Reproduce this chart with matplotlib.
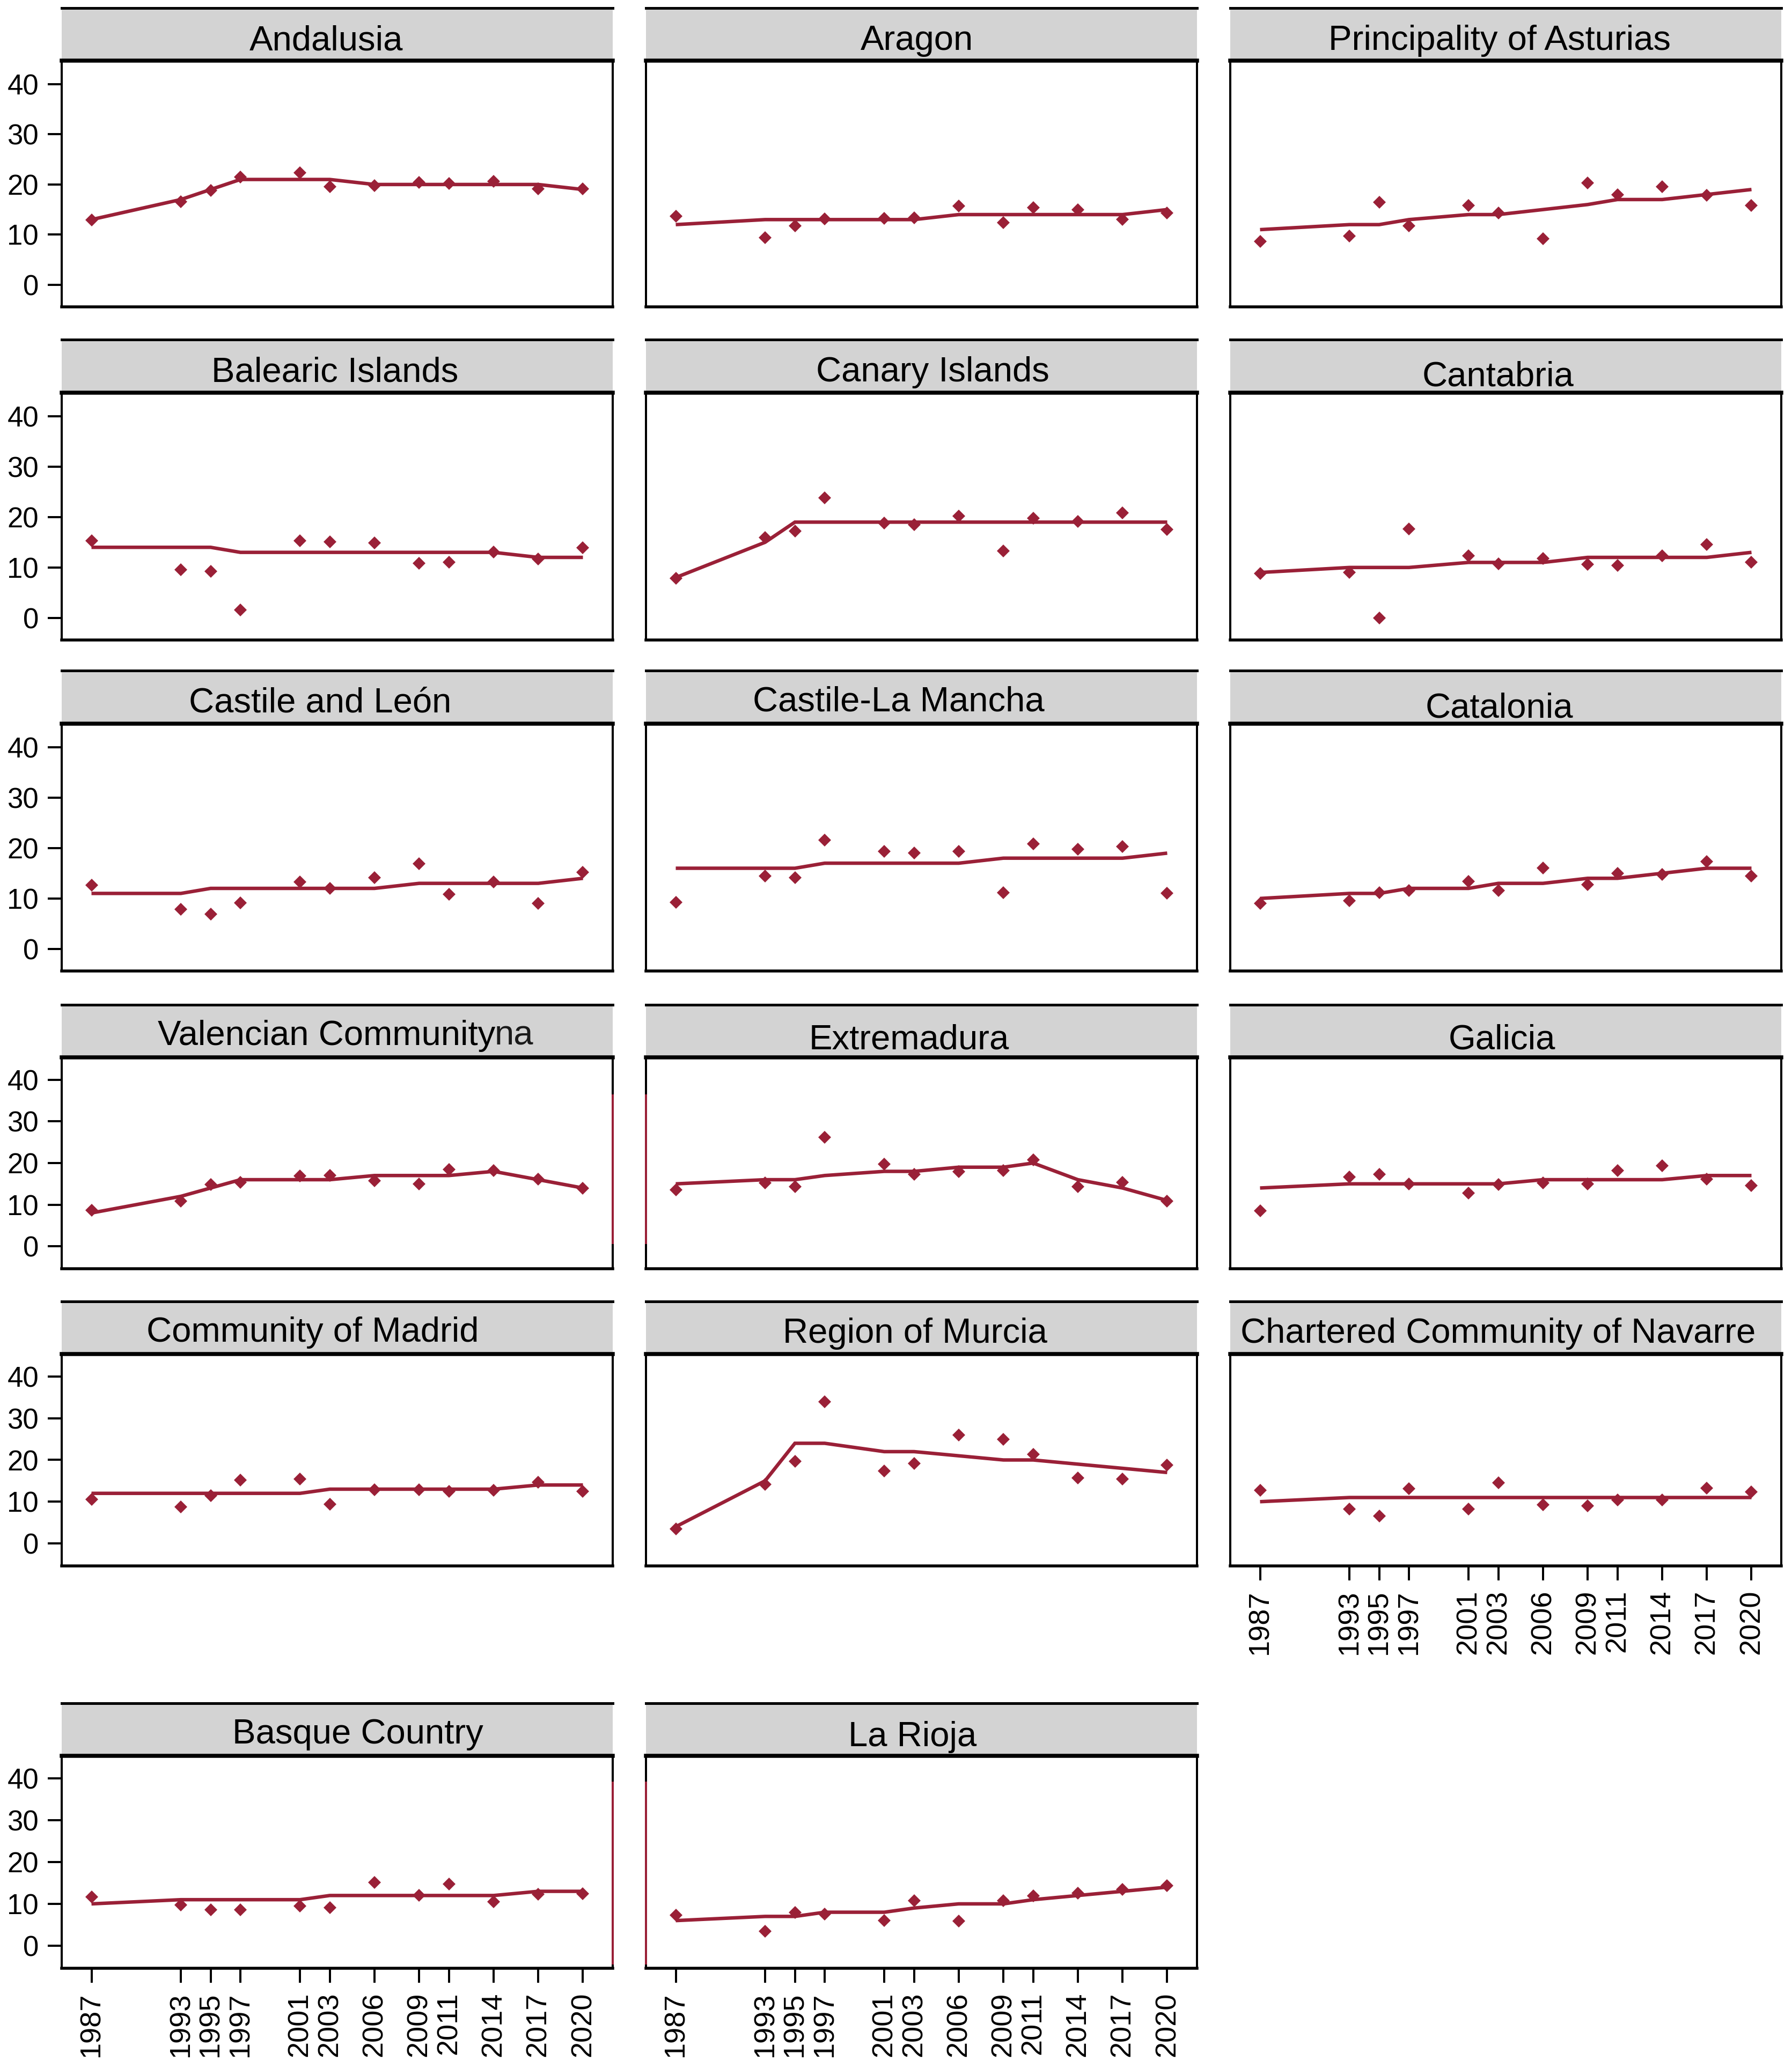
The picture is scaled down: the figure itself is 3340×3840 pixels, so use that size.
import matplotlib
matplotlib.use("Agg")
import matplotlib.pyplot as plt
from matplotlib.lines import Line2D

# ---------------- data ----------------
years = [1987, 1993, 1995, 1997, 2001, 2003, 2006, 2009, 2011, 2014, 2017, 2020]
y_ticks = [0, 10, 20, 30, 40]

regions = ["Andalusia", "Aragon", "Principality of Asturias",
           "Balearic Islands", "Canary Islands", "Cantabria",
           "Castile and León", "Castile-La Mancha", "Catalonia",
           "Valencian Community", "Extremadura", "Galicia",
           "Community of Madrid", "Region of Murcia", "Chartered Community of Navarre",
           "Basque Country", "La Rioja"]

obs_andalusia = [12.9, 16.6, 18.8, 21.5, 22.3, 19.6, 19.8, 20.4, 20.2, 20.6, 19.1, 19.1]
fit_andalusia = [13, 17, 19, 21, 21, 21, 20, 20, 20, 20, 20, 19]
obs_aragon = [13.7, 9.4, 11.8, 13.1, 13.3, 13.4, 15.7, 12.4, 15.4, 15.0, 13.0, 14.3]
fit_aragon = [12, 13, 13, 13, 13, 13, 14, 14, 14, 14, 14, 15]
obs_asturias = [8.6, 9.7, 16.5, 11.7, 15.8, 14.3, 9.2, 20.3, 18.0, 19.6, 17.9, 15.8]
fit_asturias = [11, 12, 12, 13, 14, 14, 15, 16, 17, 17, 18, 19]
obs_balearic = [15.3, 9.6, 9.2, 1.6, 15.3, 15.1, 14.9, 10.8, 11.0, 13.1, 11.7, 13.9]
fit_balearic = [14, 14, 14, 13, 13, 13, 13, 13, 13, 13, 12, 12]
obs_canary = [7.9, 15.9, 17.2, 23.8, 18.8, 18.5, 20.2, 13.3, 19.8, 19.1, 20.8, 17.5]
fit_canary = [8, 15, 19, 19, 19, 19, 19, 19, 19, 19, 19, 19]
obs_cantabria = [8.8, 9.0, 0.0, 17.7, 12.3, 10.7, 11.8, 10.6, 10.4, 12.3, 14.6, 11.0]
fit_cantabria = [9, 10, 10, 10, 11, 11, 11, 12, 12, 12, 12, 13]
obs_castile_leon = [12.6, 7.9, 6.9, 9.1, 13.3, 12.0, 14.1, 16.9, 10.8, 13.3, 9.0, 15.2]
fit_castile_leon = [11, 11, 12, 12, 12, 12, 12, 13, 13, 13, 13, 14]
obs_castile_mancha = [9.2, 14.5, 14.1, 21.6, 19.3, 19.0, 19.3, 11.1, 20.8, 19.8, 20.3, 11.0]
fit_castile_mancha = [16, 16, 16, 17, 17, 17, 17, 18, 18, 18, 18, 19]
obs_catalonia = [9.0, 9.6, 11.1, 11.6, 13.4, 11.6, 16.1, 12.7, 15.0, 14.8, 17.3, 14.5]
fit_catalonia = [10, 11, 11, 12, 12, 13, 13, 14, 14, 15, 16, 16]
obs_valencia = [8.7, 10.8, 14.8, 15.3, 16.9, 17.0, 15.8, 15.0, 18.4, 18.2, 16.1, 13.9]
fit_valencia = [8, 12, 14, 16, 16, 16, 17, 17, 17, 18, 16, 14]
obs_extremadura = [13.5, 15.2, 14.3, 26.2, 19.7, 17.3, 18.0, 18.2, 20.8, 14.3, 15.4, 10.9]
fit_extremadura = [15, 16, 16, 17, 18, 18, 19, 19, 20, 16, 14, 11]
obs_galicia = [8.5, 16.7, 17.3, 15.0, 12.8, 14.8, 15.2, 15.0, 18.2, 19.4, 16.1, 14.6]
fit_galicia = [14, 15, 15, 15, 15, 15, 16, 16, 16, 16, 17, 17]
obs_madrid = [10.6, 8.8, 11.5, 15.2, 15.4, 9.4, 12.8, 12.9, 12.5, 12.7, 14.6, 12.5]
fit_madrid = [12, 12, 12, 12, 12, 13, 13, 13, 13, 13, 14, 14]
obs_murcia = [3.5, 14.2, 19.7, 34.0, 17.3, 19.2, 26.0, 24.9, 21.3, 15.7, 15.4, 18.8]
fit_murcia = [4, 15, 24, 24, 22, 22, 21, 20, 20, 19, 18, 17]
obs_navarre = [12.7, 8.2, 6.6, 13.1, 8.2, 14.5, 9.3, 9.0, 10.4, 10.4, 13.2, 12.3]
fit_navarre = [10, 11, 11, 11, 11, 11, 11, 11, 11, 11, 11, 11]
obs_basque = [11.6, 9.7, 8.6, 8.6, 9.5, 9.1, 15.1, 12.1, 14.8, 10.5, 12.3, 12.4]
fit_basque = [10, 11, 11, 11, 11, 12, 12, 12, 12, 12, 13, 13]
obs_rioja = [7.3, 3.4, 8.0, 7.6, 6.0, 10.8, 5.9, 10.7, 11.9, 12.5, 13.5, 14.4]
fit_rioja = [6, 7, 7, 8, 8, 9, 10, 10, 11, 12, 13, 14]

observed = [obs_andalusia, obs_aragon, obs_asturias, obs_balearic, obs_canary,
            obs_cantabria, obs_castile_leon, obs_castile_mancha, obs_catalonia,
            obs_valencia, obs_extremadura, obs_galicia, obs_madrid, obs_murcia,
            obs_navarre, obs_basque, obs_rioja]
fitted = [fit_andalusia, fit_aragon, fit_asturias, fit_balearic, fit_canary,
          fit_cantabria, fit_castile_leon, fit_castile_mancha, fit_catalonia,
          fit_valencia, fit_extremadura, fit_galicia, fit_madrid, fit_murcia,
          fit_navarre, fit_basque, fit_rioja]

# ---------------- layout (pixels) ----------------
W, H = 3341, 3840
fig = plt.figure(figsize=(W / 100, H / 100), dpi=100)

col_left = [115, 1204, 2293]
col_w = 1027
# (strip top, plot top, plot bottom)
rows = [(15, 113, 572), (633, 732, 1193), (1250, 1349, 1810),
        (1873, 1971, 2365), (2426, 2524, 2919), (3175, 3273, 3669)]
row_ylim = [(-4.4, 44.7), (-4.4, 44.7), (-4.4, 44.7),
            (-5.4, 45.4), (-5.4, 45.4), (-5.4, 45.4)]
title_dx = [-0.020, -0.008, -0.011, -0.004, 0.020, -0.014, -0.031, -0.042, -0.012,
            -0.019, -0.023, -0.007, -0.045, -0.012, -0.014, 0.037, -0.016]
title_base = [20, 20, 20, 21, 21, 13, 21, 23, 11, 23, 16, 16, 23, 21, 21, 23, 18]
xtick_panels = {14, 15, 16}

RED = "#9a2037"
PX = 72 / 100  # points per pixel
tick_font = ["Liberation Sans", "DejaVu Sans"]
title_font = ["Liberation Sans", "DejaVu Sans"]

for i, name in enumerate(regions):
    r, c = divmod(i, 3)
    s_top, p_top, p_bot = rows[r]
    left = col_left[c]
    ax = fig.add_axes([left / W, 1 - p_bot / H, col_w / W, (p_bot - p_top) / H])
    ax.plot(years, fitted[i], color=RED, lw=6.5 * PX, solid_joinstyle="miter",
            solid_capstyle="butt", zorder=2)
    ax.plot(years, observed[i], linestyle="none", marker="D", markersize=12,
            color=RED, markeredgewidth=0, zorder=3)
    ax.set_xlim(1985, 2022)
    ax.set_ylim(*row_ylim[r])
    for side in ["left", "right", "bottom", "top"]:
        ax.spines[side].set_linewidth(4 * PX)
        ax.spines[side].set_color("black")
    ax.spines["bottom"].set_linewidth(5.5 * PX)
    if c == 0:
        ax.set_yticks(y_ticks)
        ax.set_yticklabels([str(v) for v in y_ticks], family=tick_font, fontsize=38)
        ax.tick_params(axis="y", length=26 * PX, width=4 * PX, pad=17 * PX)
    else:
        ax.set_yticks([])
    if i in xtick_panels:
        ax.set_xticks(years)
        ax.set_xticklabels([str(y) for y in years], rotation=90,
                           family=tick_font, fontsize=39)
        ax.tick_params(axis="x", length=27 * PX, width=4 * PX, pad=18 * PX)
    else:
        ax.set_xticks([])

    # strip
    sax = fig.add_axes([left / W, 1 - p_top / H, col_w / W, (p_top - s_top) / H])
    sax.set_facecolor("#d3d3d3")
    sax.set_xticks([])
    sax.set_yticks([])
    sax.set_xlim(0, 1)
    sax.set_ylim(0, p_top - s_top)
    sax.spines["left"].set_visible(False)
    sax.spines["right"].set_visible(False)
    sax.spines["top"].set_linewidth(5 * PX)
    sax.spines["bottom"].set_linewidth(7.5 * PX)
    sax.text(0.5 + title_dx[i], title_base[i], name, ha="center", va="baseline",
             fontsize=47, family=title_font, color="black")
    if name == "Valencian Community":
        sax.text((922 - left) / col_w, title_base[i], "na", ha="left", va="baseline",
                 fontsize=47, family=title_font, color="#1a1a1a")

# stray red vertical rules present in the original image
for (y0, y1) in [(2042, 2317), (3323, 3660)]:
    for xp in [1142, 1204]:
        fig.add_artist(Line2D([xp / W, xp / W], [1 - y0 / H, 1 - y1 / H],
                              transform=fig.transFigure, color=RED, lw=4 * PX))

fig.savefig("out.png", dpi=100, facecolor="white")
